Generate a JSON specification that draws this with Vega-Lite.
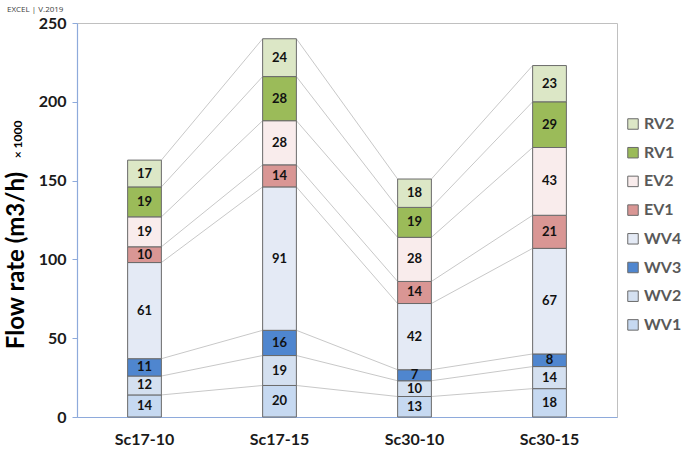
{
 "$schema": "https://vega.github.io/schema/vega-lite/v6.json",
 "width": 540,
 "height": 394,
 "autosize": {"type": "none"},
 "padding": {"left": 77, "top": 23, "right": 68, "bottom": 33},
 "background": "white",
 "title": {"text": "EXCEL | V.2019", "anchor": "start", "frame": "group", "dx": -70, "offset": 1, "fontSize": 8, "font": "Open Sans", "color": "#404040", "fontWeight": "normal"},
 "config": {"view": {"stroke": "#c0c0c0"}, "font": "Lato"},
 "data": {"values": [
  {"scenario": "Sc17-10", "si": 1, "component": "WV1", "ord": 1, "value": 14},
  {"scenario": "Sc17-10", "si": 1, "component": "WV2", "ord": 2, "value": 12},
  {"scenario": "Sc17-10", "si": 1, "component": "WV3", "ord": 3, "value": 11},
  {"scenario": "Sc17-10", "si": 1, "component": "WV4", "ord": 4, "value": 61},
  {"scenario": "Sc17-10", "si": 1, "component": "EV1", "ord": 5, "value": 10},
  {"scenario": "Sc17-10", "si": 1, "component": "EV2", "ord": 6, "value": 19},
  {"scenario": "Sc17-10", "si": 1, "component": "RV1", "ord": 7, "value": 19},
  {"scenario": "Sc17-10", "si": 1, "component": "RV2", "ord": 8, "value": 17},
  {"scenario": "Sc17-15", "si": 2, "component": "WV1", "ord": 1, "value": 20},
  {"scenario": "Sc17-15", "si": 2, "component": "WV2", "ord": 2, "value": 19},
  {"scenario": "Sc17-15", "si": 2, "component": "WV3", "ord": 3, "value": 16},
  {"scenario": "Sc17-15", "si": 2, "component": "WV4", "ord": 4, "value": 91},
  {"scenario": "Sc17-15", "si": 2, "component": "EV1", "ord": 5, "value": 14},
  {"scenario": "Sc17-15", "si": 2, "component": "EV2", "ord": 6, "value": 28},
  {"scenario": "Sc17-15", "si": 2, "component": "RV1", "ord": 7, "value": 28},
  {"scenario": "Sc17-15", "si": 2, "component": "RV2", "ord": 8, "value": 24},
  {"scenario": "Sc30-10", "si": 3, "component": "WV1", "ord": 1, "value": 13},
  {"scenario": "Sc30-10", "si": 3, "component": "WV2", "ord": 2, "value": 10},
  {"scenario": "Sc30-10", "si": 3, "component": "WV3", "ord": 3, "value": 7},
  {"scenario": "Sc30-10", "si": 3, "component": "WV4", "ord": 4, "value": 42},
  {"scenario": "Sc30-10", "si": 3, "component": "EV1", "ord": 5, "value": 14},
  {"scenario": "Sc30-10", "si": 3, "component": "EV2", "ord": 6, "value": 28},
  {"scenario": "Sc30-10", "si": 3, "component": "RV1", "ord": 7, "value": 19},
  {"scenario": "Sc30-10", "si": 3, "component": "RV2", "ord": 8, "value": 18},
  {"scenario": "Sc30-15", "si": 4, "component": "WV1", "ord": 1, "value": 18},
  {"scenario": "Sc30-15", "si": 4, "component": "WV2", "ord": 2, "value": 14},
  {"scenario": "Sc30-15", "si": 4, "component": "WV3", "ord": 3, "value": 8},
  {"scenario": "Sc30-15", "si": 4, "component": "WV4", "ord": 4, "value": 67},
  {"scenario": "Sc30-15", "si": 4, "component": "EV1", "ord": 5, "value": 21},
  {"scenario": "Sc30-15", "si": 4, "component": "EV2", "ord": 6, "value": 43},
  {"scenario": "Sc30-15", "si": 4, "component": "RV1", "ord": 7, "value": 29},
  {"scenario": "Sc30-15", "si": 4, "component": "RV2", "ord": 8, "value": 23}
 ]},
 "resolve": {"axis": {"y": "independent"}},
 "layer": [
  {
   "transform": [
    {"stack": "value", "groupby": ["scenario"], "sort": [{"field": "ord", "order": "ascending"}], "as": ["lo", "hi"]},
    {"window": [{"op": "lead", "field": "hi", "as": "nhi"}, {"op": "lead", "field": "scenario", "as": "nsc"}], "groupby": ["component"], "sort": [{"field": "si", "order": "ascending"}]},
    {"filter": "datum.nsc != null"}
   ],
   "mark": {"type": "rule", "color": "#c8c8c8", "strokeWidth": 1},
   "encoding": {
    "x": {"field": "scenario", "type": "nominal", "bandPosition": 1, "sort": ["Sc17-10", "Sc17-15", "Sc30-10", "Sc30-15"], "scale": {"paddingInner": 0.75, "paddingOuter": 0.375}, "axis": {"title": null, "labelAngle": 0, "ticks": false, "domainColor": "#8eaadb", "domainWidth": 1.2, "labelFont": "Lato", "labelFontSize": 16, "labelFontWeight": "bold", "labelColor": "#1a1a1a", "labelPadding": 14}},
    "x2": {"field": "nsc", "bandPosition": 0},
    "y": {"field": "hi", "type": "quantitative", "scale": {"domain": [0, 250]}, "axis": null},
    "y2": {"field": "nhi"}
   }
  },
  {
   "mark": {"type": "bar", "stroke": "#6a6a6a", "strokeWidth": 1},
   "encoding": {
    "x": {"field": "scenario", "type": "nominal", "sort": ["Sc17-10", "Sc17-15", "Sc30-10", "Sc30-15"], "scale": {"paddingInner": 0.75, "paddingOuter": 0.375}, "axis": {"title": null, "labelAngle": 0, "ticks": false, "domainColor": "#8eaadb", "domainWidth": 1.2, "labelFont": "Lato", "labelFontSize": 16, "labelFontWeight": "bold", "labelColor": "#1a1a1a", "labelPadding": 14}},
    "y": {"field": "value", "type": "quantitative", "stack": "zero", "scale": {"domain": [0, 250]},
     "axis": {"values": [0, 50, 100, 150, 200, 250], "grid": false, "domainColor": "#8eaadb", "domainWidth": 1.2, "tickColor": "#8eaadb", "tickSize": 5, "labelFont": "Lato", "labelFontWeight": "bold", "labelFontSize": 16, "labelColor": "#1a1a1a", "labelPadding": 6, "title": "Flow rate (m3/h)", "titleFont": "Lato", "titleFontSize": 24, "titleFontWeight": "bold", "titleColor": "#000000", "titleAngle": 270, "titleX": -54, "titleY": 237, "titleAlign": "center", "titleBaseline": "alphabetic"}},
    "color": {"field": "component", "type": "nominal",
     "scale": {"domain": ["RV2", "RV1", "EV2", "EV1", "WV4", "WV3", "WV2", "WV1"], "range": ["#dce7c6", "#9bbb59", "#f9ecec", "#d99694", "#e4eaf5", "#4f86cf", "#d4e0f0", "#c6d9f1"]},
     "legend": {"title": null, "orient": "none", "legendX": 548, "legendY": 93, "symbolType": "square", "symbolSize": 110, "symbolStrokeColor": "#6a6a6a", "symbolStrokeWidth": 1, "labelFont": "Lato", "labelFontSize": 16, "labelFontWeight": "bold", "labelColor": "#595959", "labelOffset": 3, "rowPadding": 12.7}},
    "order": {"field": "ord", "type": "quantitative", "sort": "ascending"}
   }
  },
  {
   "mark": {"type": "text", "font": "Lato", "fontWeight": "bold", "fontSize": 13, "color": "#111111"},
   "encoding": {
    "x": {"field": "scenario", "type": "nominal", "sort": ["Sc17-10", "Sc17-15", "Sc30-10", "Sc30-15"], "scale": {"paddingInner": 0.75, "paddingOuter": 0.375}, "axis": {"title": null, "labelAngle": 0, "ticks": false, "domainColor": "#8eaadb", "domainWidth": 1.2, "labelFont": "Lato", "labelFontSize": 16, "labelFontWeight": "bold", "labelColor": "#1a1a1a", "labelPadding": 14}},
    "y": {"field": "value", "type": "quantitative", "stack": "zero", "bandPosition": 0.5, "scale": {"domain": [0, 250]}, "axis": null},
    "detail": {"field": "component"},
    "order": {"field": "ord", "type": "quantitative", "sort": "ascending"},
    "text": {"field": "value", "type": "quantitative"}
   }
  },
  {
   "mark": {"type": "point", "opacity": 0},
   "encoding": {
    "y": {"field": "value", "type": "quantitative", "scale": {"domain": [0, 250]},
     "axis": {"orient": "left", "labels": false, "ticks": false, "domain": false, "grid": false, "title": "× 1000", "titleFont": "Lato", "titleFontSize": 12, "titleFontWeight": "bold", "titleColor": "#000000", "titleAngle": 270, "titleX": -56, "titleY": 116, "titleAlign": "center", "titleBaseline": "alphabetic"}}
   }
  }
 ]
}
